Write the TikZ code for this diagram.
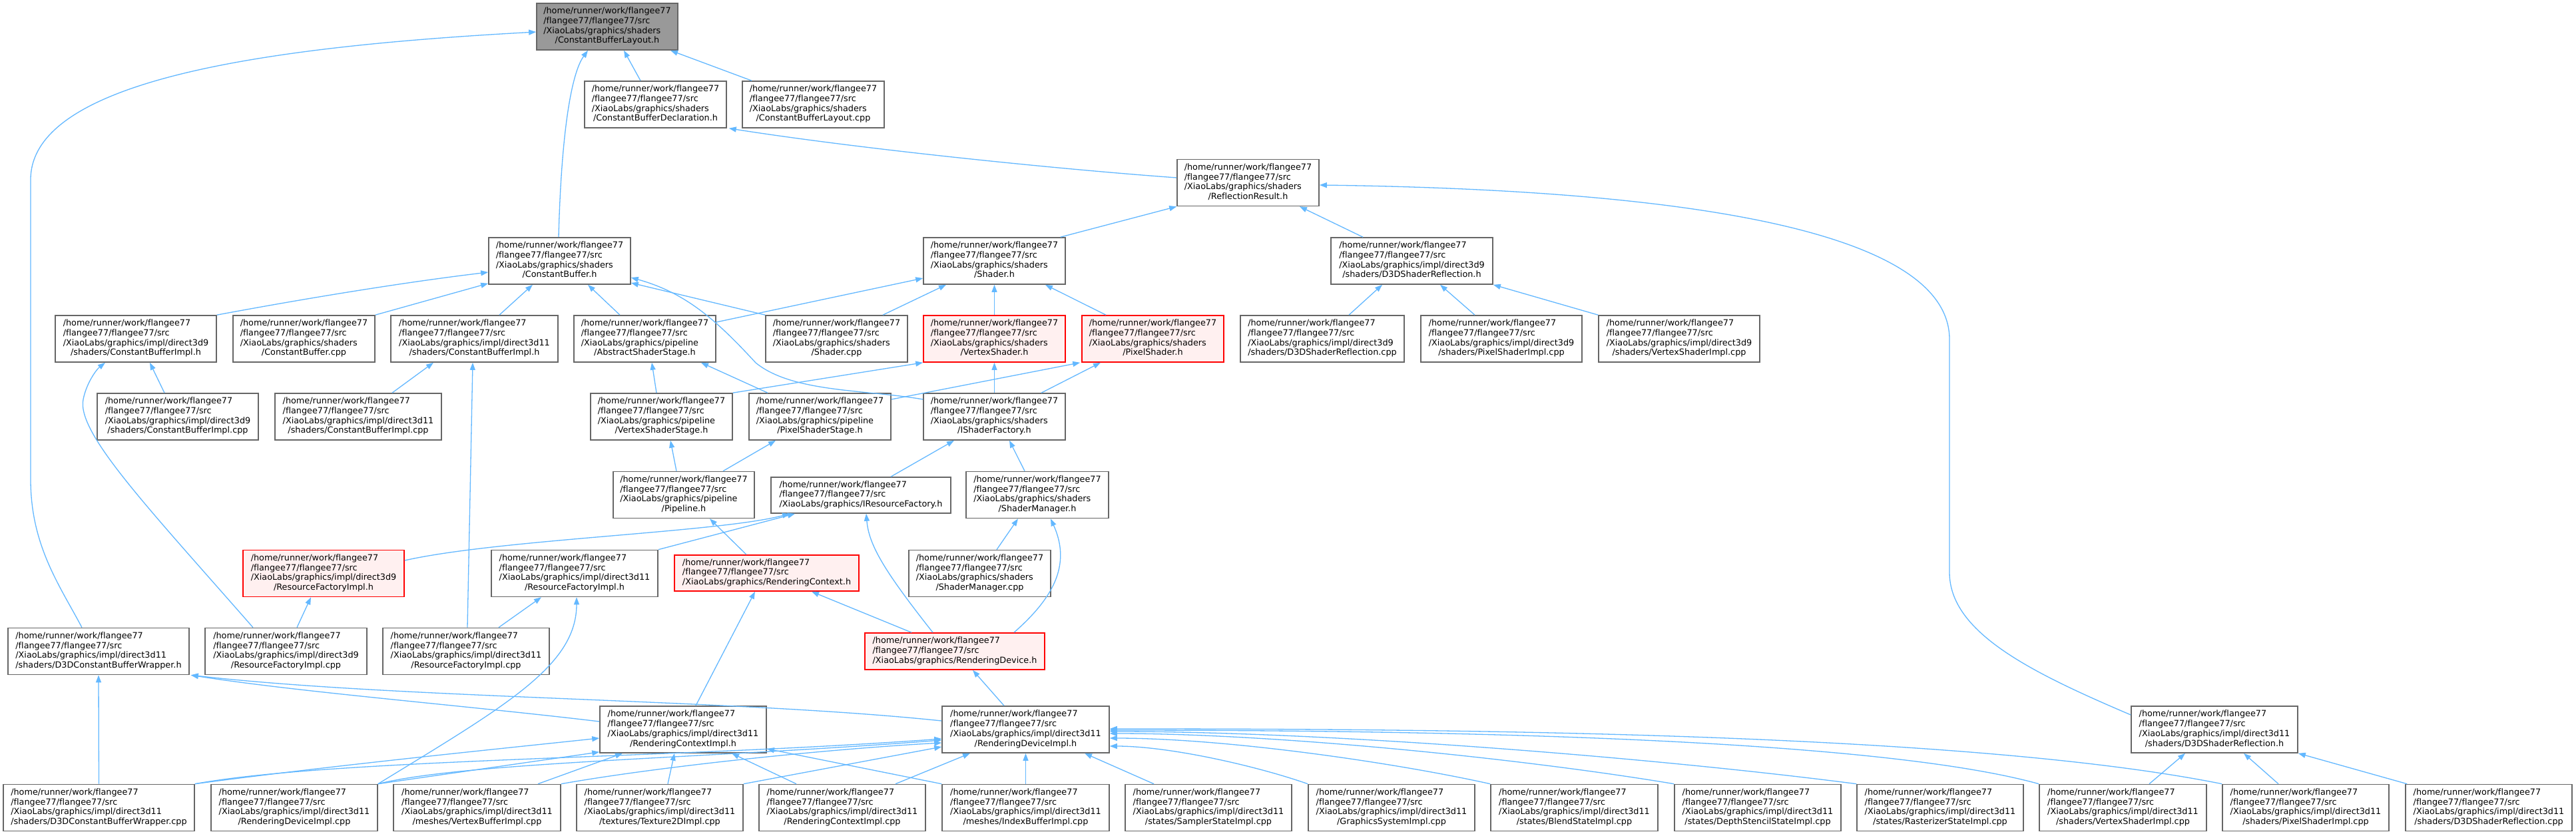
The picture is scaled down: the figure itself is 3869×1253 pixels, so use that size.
\documentclass[tikz,border=0pt]{standalone}
\usepackage{fontspec}
\setmainfont[Ligatures=NoCommon]{DejaVu Sans}
\usetikzlibrary{arrows.meta}
\definecolor{edgeblue}{HTML}{63B8FF}
\definecolor{boxgray}{HTML}{666666}
\definecolor{redfill}{HTML}{FFF0F0}
\definecolor{targetfill}{HTML}{999999}
\newcommand\nlab[2]{\begin{tabular}{@{}l@{}}/home/runner/work/flangee77\\/flangee77/flangee77/src\\#1\\\multicolumn{1}{@{}c@{}}{#2}\end{tabular}}
\newcommand\nlabc[1]{\begin{tabular}{@{}l@{}}/home/runner/work/flangee77\\/flangee77/flangee77/src\\#1\end{tabular}}
\begin{document}
\begin{tikzpicture}[x=1pt,y=-1pt,
  box/.style={draw=boxgray, line width=1.6pt, fill=white, inner sep=0pt, minimum height=70pt, font=\fontsize{12.8}{14.7}\selectfont},
  redbox/.style={box, draw=red, fill=redfill},
  target/.style={box, fill=targetfill},
  edge/.style={draw=edgeblue, line width=1.3pt, -{Triangle[length=11pt,width=8pt]}}]
\useasboundingbox (0,0) rectangle (3869,1253);
\fill[white] (0,0) rectangle (3869,1253);
% row 0-3
\node[target, minimum width=212pt] (cblayouth) at (912,40) {\nlab{/XiaoLabs/graphics/shaders}{/ConstantBufferLayout.h}};
\node[box, minimum width=213pt] (cbdecl) at (984.5,157) {\nlab{/XiaoLabs/graphics/shaders}{/ConstantBufferDeclaration.h}};
\node[box, minimum width=213pt] (cblayoutcpp) at (1221.5,157) {\nlab{/XiaoLabs/graphics/shaders}{/ConstantBufferLayout.cpp}};
\node[box, minimum width=213pt] (reflres) at (1874.5,274.5) {\nlab{/XiaoLabs/graphics/shaders}{/ReflectionResult.h}};
\node[box, minimum width=213pt] (cbh) at (840.5,392) {\nlab{/XiaoLabs/graphics/shaders}{/ConstantBuffer.h}};
\node[box, minimum width=213pt] (shaderh) at (1493.5,392) {\nlab{/XiaoLabs/graphics/shaders}{/Shader.h}};
\node[box, minimum width=243pt] (d9shreflh) at (2120.5,392) {\nlab{/XiaoLabs/graphics/impl/direct3d9}{/shaders/D3DShaderReflection.h}};
% row 4
\node[box, minimum width=242pt] (d9cbimplh) at (204,509) {\nlab{/XiaoLabs/graphics/impl/direct3d9}{/shaders/ConstantBufferImpl.h}};
\node[box, minimum width=213pt] (cbcpp) at (456.5,509) {\nlab{/XiaoLabs/graphics/shaders}{/ConstantBuffer.cpp}};
\node[box, minimum width=251pt] (d11cbimplh) at (712.5,509) {\nlab{/XiaoLabs/graphics/impl/direct3d11}{/shaders/ConstantBufferImpl.h}};
\node[box, minimum width=213pt] (absss) at (968.5,509) {\nlab{/XiaoLabs/graphics/pipeline}{/AbstractShaderStage.h}};
\node[box, minimum width=213pt] (shadercpp) at (1256.5,509) {\nlab{/XiaoLabs/graphics/shaders}{/Shader.cpp}};
\node[redbox, minimum width=213pt] (vshh) at (1493.5,509) {\nlab{/XiaoLabs/graphics/shaders}{/VertexShader.h}};
\node[redbox, minimum width=213pt] (pshh) at (1731.5,509) {\nlab{/XiaoLabs/graphics/shaders}{/PixelShader.h}};
\node[box, minimum width=246pt] (d9shreflcpp) at (1986,509) {\nlab{/XiaoLabs/graphics/impl/direct3d9}{/shaders/D3DShaderReflection.cpp}};
\node[box, minimum width=242pt] (d9psimplcpp) at (2255,509) {\nlab{/XiaoLabs/graphics/impl/direct3d9}{/shaders/PixelShaderImpl.cpp}};
\node[box, minimum width=242pt] (d9vsimplcpp) at (2522,509) {\nlab{/XiaoLabs/graphics/impl/direct3d9}{/shaders/VertexShaderImpl.cpp}};
% row 5
\node[box, minimum width=242pt] (d9cbimplcpp) at (267,626) {\nlab{/XiaoLabs/graphics/impl/direct3d9}{/shaders/ConstantBufferImpl.cpp}};
\node[box, minimum width=250pt] (d11cbimplcpp) at (538,626) {\nlab{/XiaoLabs/graphics/impl/direct3d11}{/shaders/ConstantBufferImpl.cpp}};
\node[box, minimum width=213pt] (vss) at (993.5,626) {\nlab{/XiaoLabs/graphics/pipeline}{/VertexShaderStage.h}};
\node[box, minimum width=213pt] (pss) at (1231.5,626) {\nlab{/XiaoLabs/graphics/pipeline}{/PixelShaderStage.h}};
\node[box, minimum width=213pt] (ishf) at (1493.5,626) {\nlab{/XiaoLabs/graphics/shaders}{/IShaderFactory.h}};
% row 6
\node[box, minimum width=212pt] (pipeline) at (1027,743.5) {\nlab{/XiaoLabs/graphics/pipeline}{/Pipeline.h}};
\node[box, minimum width=270pt, minimum height=54pt] (iresf) at (1293,744) {\nlabc{/XiaoLabs/graphics/IResourceFactory.h}};
\node[box, minimum width=214pt] (shmgrh) at (1558,743.5) {\nlab{/XiaoLabs/graphics/shaders}{/ShaderManager.h}};
% row 7
\node[redbox, minimum width=242pt] (d9rfimplh) at (486,861.5) {\nlab{/XiaoLabs/graphics/impl/direct3d9}{/ResourceFactoryImpl.h}};
\node[box, minimum width=250pt] (d11rfimplh) at (863,861.5) {\nlab{/XiaoLabs/graphics/impl/direct3d11}{/ResourceFactoryImpl.h}};
\node[redbox, minimum width=277pt, minimum height=54pt] (rctxh) at (1151.5,861) {\nlabc{/XiaoLabs/graphics/RenderingContext.h}};
\node[box, minimum width=213pt] (shmgrcpp) at (1471.5,861.5) {\nlab{/XiaoLabs/graphics/shaders}{/ShaderManager.cpp}};
% row 8
\node[box, minimum width=272pt] (d3dcbwh) at (148,978.5) {\nlab{/XiaoLabs/graphics/impl/direct3d11}{/shaders/D3DConstantBufferWrapper.h}};
\node[box, minimum width=243pt] (d9rfimplcpp) at (429.5,978.5) {\nlab{/XiaoLabs/graphics/impl/direct3d9}{/ResourceFactoryImpl.cpp}};
\node[box, minimum width=250pt] (d11rfimplcpp) at (700,978.5) {\nlab{/XiaoLabs/graphics/impl/direct3d11}{/ResourceFactoryImpl.cpp}};
\node[redbox, minimum width=270pt, minimum height=55pt] (rdevh) at (1434,978.5) {\nlabc{/XiaoLabs/graphics/RenderingDevice.h}};
% row 9
\node[box, minimum width=250pt] (rcimplh) at (1026,1096) {\nlab{/XiaoLabs/graphics/impl/direct3d11}{/RenderingContextImpl.h}};
\node[box, minimum width=251pt] (rdimplh) at (1540.5,1096) {\nlab{/XiaoLabs/graphics/impl/direct3d11}{/RenderingDeviceImpl.h}};
\node[box, minimum width=250pt] (d11shreflh) at (3326,1096) {\nlab{/XiaoLabs/graphics/impl/direct3d11}{/shaders/D3DShaderReflection.h}};
% row 10
\node[box, minimum width=287pt] (d3dcbwcpp) at (148.5,1213.5) {\nlab{/XiaoLabs/graphics/impl/direct3d11}{/shaders/D3DConstantBufferWrapper.cpp}};
\node[box, minimum width=250pt] (rdimplcpp) at (442,1213.5) {\nlab{/XiaoLabs/graphics/impl/direct3d11}{/RenderingDeviceImpl.cpp}};
\node[box, minimum width=251pt] (vbimplcpp) at (716.5,1213.5) {\nlab{/XiaoLabs/graphics/impl/direct3d11}{/meshes/VertexBufferImpl.cpp}};
\node[box, minimum width=250pt] (tex2d) at (991,1213.5) {\nlab{/XiaoLabs/graphics/impl/direct3d11}{/textures/Texture2DImpl.cpp}};
\node[box, minimum width=250pt] (rcimplcpp) at (1265,1213.5) {\nlab{/XiaoLabs/graphics/impl/direct3d11}{/RenderingContextImpl.cpp}};
\node[box, minimum width=251pt] (ibimplcpp) at (1540.5,1213.5) {\nlab{/XiaoLabs/graphics/impl/direct3d11}{/meshes/IndexBufferImpl.cpp}};
\node[box, minimum width=250pt] (sampler) at (1815,1213.5) {\nlab{/XiaoLabs/graphics/impl/direct3d11}{/states/SamplerStateImpl.cpp}};
\node[box, minimum width=250pt] (gfxsys) at (2090,1213.5) {\nlab{/XiaoLabs/graphics/impl/direct3d11}{/GraphicsSystemImpl.cpp}};
\node[box, minimum width=251pt] (blend) at (2364.5,1213.5) {\nlab{/XiaoLabs/graphics/impl/direct3d11}{/states/BlendStateImpl.cpp}};
\node[box, minimum width=250pt] (depth) at (2640,1213.5) {\nlab{/XiaoLabs/graphics/impl/direct3d11}{/states/DepthStencilStateImpl.cpp}};
\node[box, minimum width=250pt] (raster) at (2914,1213.5) {\nlab{/XiaoLabs/graphics/impl/direct3d11}{/states/RasterizerStateImpl.cpp}};
\node[box, minimum width=251pt] (vsimplcpp) at (3188.5,1213.5) {\nlab{/XiaoLabs/graphics/impl/direct3d11}{/shaders/VertexShaderImpl.cpp}};
\node[box, minimum width=250pt] (psimplcpp) at (3463,1213.5) {\nlab{/XiaoLabs/graphics/impl/direct3d11}{/shaders/PixelShaderImpl.cpp}};
\node[box, minimum width=250pt] (d3dshreflcpp) at (3738,1213.5) {\nlab{/XiaoLabs/graphics/impl/direct3d11}{/shaders/D3DShaderReflection.cpp}};
% edges to top rows
\draw[edge] ([xshift=-22.5pt]cbdecl.north) -- ([xshift=25pt]cblayouth.south);
\draw[edge] ([xshift=-92.5pt]cblayoutcpp.north) -- ([xshift=95pt]cblayouth.south);
\draw[edge] ([xshift=-1.5pt]cbh.north) .. controls (843,200) and (858,110) .. ([xshift=-29pt]cblayouth.south);
\draw[edge] ([xshift=-25pt]d3dcbwh.north) .. controls (90,880) and (46,820) .. (46,720) -- (46,270) .. controls (46,120) and (400,70) .. ([yshift=-8pt]cblayouth.west);
\draw[edge] ([yshift=7.5pt]reflres.west) .. controls (1600,255) and (1300,225) .. ([xshift=3pt]cbdecl.south east);
\draw[edge] ([xshift=-8pt]shaderh.north east) -- (reflres.south west);
\draw[edge] ([xshift=-73.5pt]d9shreflh.north) -- ([xshift=77.5pt]reflres.south);
\draw[edge] ([yshift=22pt]d11shreflh.west) .. controls (3050,1010) and (2928,950) .. (2928,860) -- (2928,510) .. controls (2928,340) and (2500,285) .. ([yshift=-3.5pt]reflres.east);
% edges to ConstantBuffer.h
\draw[edge] (d9cbimplh.north east) .. controls (450,450) and (600,425) .. ([yshift=-17pt]cbh.west);
\draw[edge] (cbcpp.north east) -- ([yshift=2pt]cbh.south west);
\draw[edge] ([xshift=37.5pt]d11cbimplh.north) -- ([xshift=-40.5pt]cbh.south);
\draw[edge] ([xshift=-37.5pt]absss.north) -- ([xshift=42.5pt]cbh.south);
\draw[edge] (shadercpp.north west) -- ([yshift=-33pt]cbh.east);
\draw[edge] ([yshift=26pt]ishf.west) .. controls (1300,585) and (1190,590) .. (1135,545) .. controls (1075,480) and (1030,440) .. ([yshift=-25pt]cbh.east);
% edges to Shader.h and D3D9 reflection
\draw[edge] ([yshift=25pt]absss.east) -- ([yshift=-26pt]shaderh.west);
\draw[edge] ([xshift=69.5pt]shadercpp.north) -- ([xshift=-72.5pt]shaderh.south);
\draw[edge] (vshh.north) -- (shaderh.south);
\draw[edge] ([xshift=-70.5pt]pshh.north) -- ([xshift=76.5pt]shaderh.south);
\draw[edge] ([xshift=40pt]d9shreflcpp.north) -- ([xshift=-44.5pt]d9shreflh.south);
\draw[edge] ([xshift=-40pt]d9psimplcpp.north) -- ([xshift=42.5pt]d9shreflh.south);
\draw[edge] (d9vsimplcpp.north west) -- (d9shreflh.south east);
% row 5 edges
\draw[edge] ([xshift=-20pt]d9cbimplcpp.north) -- ([xshift=21pt]d9cbimplh.south);
\draw[edge] ([xshift=51pt]d11cbimplcpp.north) -- ([xshift=-61.5pt]d11cbimplh.south);
\draw[edge] ([xshift=-7.5pt]vss.north) -- ([xshift=10.5pt]absss.south);
\draw[edge] ([xshift=-78.5pt]pss.north) -- ([xshift=84.5pt]absss.south);
\draw[edge] (vss.north east) -- (vshh.south west);
\draw[edge] ([yshift=26pt]pss.east) -- ([xshift=-2pt]pshh.south west);
\draw[edge] (ishf.north) -- (vshh.south);
\draw[edge] ([xshift=70.5pt]ishf.north) -- ([xshift=-78.5pt]pshh.south);
% row 6 edges
\draw[edge] ([xshift=-11pt]pipeline.north) -- ([xshift=13.5pt]vss.south);
\draw[edge] ([xshift=59pt]pipeline.north) -- ([xshift=-66.5pt]pss.south);
\draw[edge] ([xshift=45pt]iresf.north) -- ([xshift=-60.5pt]ishf.south);
\draw[edge] ([xshift=-19pt]shmgrh.north) -- ([xshift=22.5pt]ishf.south);
% row 7 edges
\draw[edge] ([xshift=-30.5pt]rctxh.north) -- ([xshift=39pt]pipeline.south);
\draw[edge] ([yshift=19.5pt]d9rfimplh.east) .. controls (750,810) and (1080,800) .. ([xshift=-107pt]iresf.south);
\draw[edge] (d11rfimplh.north east) -- ([xshift=-99pt]iresf.south);
\draw[edge] ([xshift=25.5pt]shmgrcpp.north) -- ([xshift=-29pt]shmgrh.south);
% row 8 edges
\draw[edge] ([xshift=16.5pt]d9rfimplcpp.north) -- ([xshift=-19pt]d9rfimplh.south);
\draw[edge] ([xshift=49pt]d11rfimplcpp.north) -- ([xshift=-50pt]d11rfimplh.south);
\draw[edge] ([xshift=-49.5pt]d9rfimplcpp.north) .. controls (220,760) and (115,650) .. (125,600) .. controls (130,575) and (145,555) .. ([xshift=-46pt]d9cbimplh.south);
\draw[edge] ([xshift=2pt]d11rfimplcpp.north) -- ([xshift=-2.5pt]d11cbimplh.south);
\draw[edge] ([xshift=-33pt]rdevh.north) .. controls (1330,860) and (1305,820) .. ([xshift=8pt]iresf.south);
\draw[edge] ([xshift=-65pt]rdevh.north) -- ([xshift=67.5pt]rctxh.south);
\draw[edge] ([xshift=89pt]rdevh.north) .. controls (1580,900) and (1610,850) .. ([xshift=20pt]shmgrh.south);
% row 9 edges
\draw[edge] ([xshift=19pt]rcimplh.north) -- ([xshift=-17.5pt]rctxh.south);
\draw[edge] ([xshift=-32.5pt]rdimplh.north) -- ([xshift=27pt]rdevh.south);
\draw[edge] ([yshift=12pt]rcimplh.west) .. controls (700,1060) and (450,1040) .. ([xshift=2pt]d3dcbwh.south east);
\draw[edge] ([yshift=13pt]rdimplh.west) .. controls (1100,1050) and (600,1050) .. ([xshift=2pt]d3dcbwh.south east);
% bottom row edges
\draw[edge] (d3dcbwcpp.north) -- (d3dcbwh.south);
\draw[edge] (d3dcbwcpp.north east) .. controls (500,1150) and (750,1125) .. ([yshift=-13pt]rcimplh.west);
\draw[edge] (d3dcbwcpp.north east) .. controls (500,1140) and (1000,1140) .. ([yshift=-14pt]rdimplh.west);
\draw[edge] (rdimplcpp.north east) -- ([yshift=2pt]rcimplh.south west);
\draw[edge] (rdimplcpp.north east) .. controls (700,1145) and (1050,1140) .. ([yshift=-16pt]rdimplh.west);
\draw[edge] (rdimplcpp.north east) .. controls (760,1060) and (866,1000) .. ([xshift=3pt]d11rfimplh.south);
\draw[edge] ([xshift=91.5pt]vbimplcpp.north) -- ([xshift=-91pt]rcimplh.south);
\draw[edge] (vbimplcpp.north east) .. controls (1000,1150) and (1250,1125) .. ([yshift=-20pt]rdimplh.west);
\draw[edge] ([xshift=12pt]tex2d.north) -- ([xshift=-13pt]rcimplh.south);
\draw[edge] (tex2d.north east) -- ([yshift=-26pt]rdimplh.west);
\draw[edge] ([xshift=-69pt]rcimplcpp.north) -- ([xshift=73pt]rcimplh.south);
\draw[edge] ([xshift=80pt]rcimplcpp.north) -- ([xshift=-83.5pt]rdimplh.south);
\draw[edge] (ibimplcpp.north west) -- ([yshift=-29pt]rcimplh.east);
\draw[edge] (ibimplcpp.north) -- (rdimplh.south);
\draw[edge] ([xshift=-82pt]sampler.north) -- ([xshift=88.5pt]rdimplh.south);
\draw[edge] (gfxsys.north west) .. controls (1888,1151) and (1757,1121) .. ([yshift=-25pt]rdimplh.east);
\draw[edge] (blend.north west) .. controls (2091,1145) and (1839,1109) .. ([yshift=-13pt]rdimplh.east);
\draw[edge] (depth.north west) .. controls (2295,1141) and (1922,1102) .. ([yshift=-6pt]rdimplh.east);
\draw[edge] (raster.north west) .. controls (2498,1140) and (2004,1099) .. ([yshift=-3pt]rdimplh.east);
\draw[edge] (vsimplcpp.north west) .. controls (2800,1105) and (2087,1097) .. ([yshift=-1pt]rdimplh.east);
\draw[edge] (psimplcpp.north west) .. controls (2950,1100) and (2169,1095) .. ([yshift=1pt]rdimplh.east);
\draw[edge] ([xshift=39.5pt]vsimplcpp.north) -- ([xshift=-44pt]d11shreflh.south);
\draw[edge] ([xshift=-41pt]psimplcpp.north) -- ([xshift=44pt]d11shreflh.south);
\draw[edge] ([xshift=3pt]d3dshreflcpp.north west) -- (d11shreflh.south east);
\end{tikzpicture}
\end{document}
